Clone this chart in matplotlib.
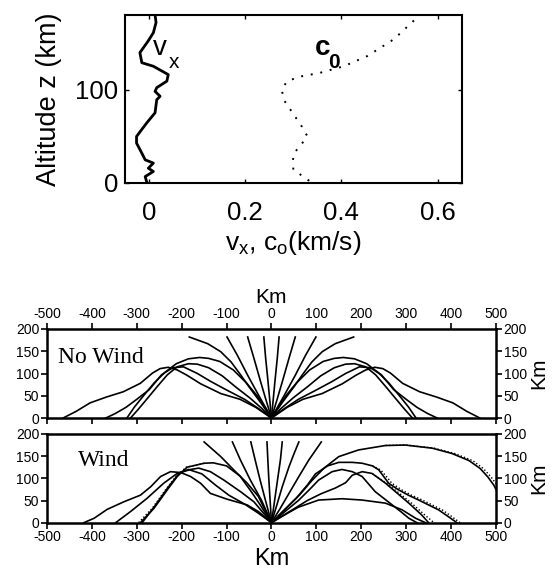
import numpy as np
import matplotlib
matplotlib.use("Agg")
import matplotlib.pyplot as plt

plt.rcParams['font.family'] = ['Liberation Sans', 'DejaVu Sans']
plt.rcParams['mathtext.fontset'] = 'custom'
plt.rcParams['mathtext.rm'] = 'Liberation Sans'
plt.rcParams['axes.unicode_minus'] = False

# ---- upper panel: wind and sound speed profiles ----
vx_z = [1, 6.5, 12, 15.5, 21, 24.5, 31.7, 42.5, 49.6, 64, 75, 89, 92.8, 98, 102,
        109, 116, 125, 128.8, 139.6, 152, 161, 172, 180]
vx_v = [-0.005, -0.008, 0.009, -0.0015, 0.009, -0.008, -0.015, -0.026, -0.026,
        -0.005, 0.0125, 0.016, 0.023, 0.0125, 0.016, 0.037, 0.04, 0.009, -0.015,
        -0.019, -0.002, 0.009, 0.0146, 0.0125]

c0_z = [2, 14, 24, 32, 42, 50, 60, 73, 89, 100, 109, 114, 118, 125, 136, 154, 179]
c0_v = [0.333, 0.30, 0.299, 0.302, 0.318, 0.329, 0.318, 0.301, 0.28, 0.276,
        0.287, 0.315, 0.356, 0.405, 0.454, 0.509, 0.561]

top_xticks = [0, 0.2, 0.4, 0.6]
top_xticklabels = ['0', '0.2', '0.4', '0.6']
top_yticks = [0, 100]

# ---- lower panels: ray paths (x in km, z in km) ----
# No wind: right half of the symmetric fan (mirrored for the left half)
nowind_x = [
    [0, 8, 13, 17],
    [0, 12, 24, 39, 53],
    [0, 28, 53, 76, 99],
    [0, 25, 50, 68, 90, 113, 142, 183],
    [0, 15, 32, 55, 85, 115, 140, 160, 185, 212, 238, 262, 285, 305, 322],
    [0, 22, 48, 80, 110, 140, 165, 185, 210, 232, 255, 278, 298, 314],
    [0, 30, 60, 100, 135, 165, 196, 220, 245, 272, 300, 324, 348, 369],
    [0, 35, 70, 113, 158, 188, 210, 230, 248, 265, 292, 330, 368, 404, 435, 464],
]
nowind_z = [
    [0, 85, 135, 182],
    [0, 40, 81, 134, 182],
    [0, 50, 96, 141, 182],
    [0, 36, 70, 96, 126, 149, 167, 182],
    [0, 25, 50, 78, 108, 127, 134, 136, 133, 122, 102, 78, 50, 25, 0],
    [0, 22, 45, 70, 95, 113, 121, 122, 115, 97, 70, 42, 18, 0],
    [0, 22, 42, 63, 82, 100, 115, 113, 97, 64, 42, 24, 10, 0],
    [0, 24, 42, 55, 77, 96, 108, 114, 111, 101, 78, 59, 47, 34, 15, 0],
]

wind_x = [
    [0, -15, -29, -54, -84, -113, -150],
    [0, -22, -47, -69, -87],
    [0, -12, -25, -36, -46],
    [0, -3, -6, -8, -10],
    [0, 7, 14, 20, 24],
    [0, 12, 24, 39, 50, 61],
    [0, 20, 39, 61, 83, 111],
    [0, -29, -54, -99, -136, -158, -180, -202, -225, -247, -269, -292, -329, -366, -395, -418],
    [0, -39, -69, -106, -136, -162, -180, -210, -240, -277, -314, -347],
    [0, -25, -45, -70, -100, -130, -150, -188, -210, -232, -262, -292],
    [0, -30, -60, -95, -125, -155, -185, -205, -230, -258, -288],
    [0, 30, 62, 90, 117, 150, 194, 254, 298, 358, 402, 440, 465, 482, 495, 500],
    [0, 25, 55, 80, 98, 125, 150, 180, 202, 225, 239, 250, 261, 283, 305, 328, 350, 372, 392, 413],
    [0, 30, 60, 85, 105, 135, 157, 180, 202, 231, 250, 269, 288, 306, 324],
    [0, 40, 80, 110, 142, 165, 180, 202, 224, 254, 276, 306, 335, 350],
    [0, 30, 60, 105, 157, 202, 254, 291, 321, 343],
]
wind_z = [
    [0, 30, 59, 89, 119, 149, 182],
    [0, 50, 96, 141, 182],
    [0, 45, 95, 140, 182],
    [0, 50, 100, 140, 182],
    [0, 50, 100, 142, 182],
    [0, 40, 81, 126, 155, 182],
    [0, 33, 66, 104, 141, 182],
    [0, 25, 40, 53, 66, 89, 104, 113, 115, 104, 81, 62, 47, 30, 10, 0],
    [0, 47, 70, 96, 115, 123, 120, 111, 89, 55, 25, 0],
    [0, 40, 70, 105, 128, 135, 134, 125, 104, 74, 32, 0],
    [0, 22, 42, 62, 85, 110, 120, 112, 80, 40, 0],
    [0, 30, 62, 95, 123, 149, 164, 174, 175, 168, 156, 140, 122, 103, 85, 75],
    [0, 25, 55, 85, 110, 128, 136, 136, 134, 128, 119, 104, 89, 74, 62, 51, 40, 29, 15, 0],
    [0, 25, 50, 75, 96, 115, 120, 115, 104, 70, 55, 40, 25, 10, 0],
    [0, 25, 50, 65, 78, 90, 107, 115, 111, 89, 70, 44, 17, 0],
    [0, 18, 35, 51, 54, 51, 44, 29, 10, 0],
]

# dotted companions (second model) where they separate from the solid rays
wind_dot_x = [
    [254, 300, 362, 408, 448, 472, 489, 500],
    [225, 243, 256, 268, 290, 312, 336, 358, 380, 400, 420],
    [224, 256, 280, 312, 342, 362],
    [-150, -190, -213, -236, -266, -296],
]
wind_dot_z = [
    [174, 175, 168, 156, 140, 122, 103, 88],
    [128, 119, 104, 89, 74, 62, 51, 40, 29, 15, 0],
    [111, 89, 70, 44, 17, 0],
    [134, 125, 104, 74, 32, 0],
]

bottom_xticks = [-500, -400, -300, -200, -100, 0, 100, 200, 300, 400, 500]
bottom_yticks = [0, 50, 100, 150, 200]

fig = plt.figure(figsize=(5.56, 5.78), dpi=100)

# upper panel
ax = fig.add_axes([0.2248, 0.684, 0.6055, 0.290])
ax.plot(vx_v, vx_z, color='black', lw=2, solid_joinstyle='round')
ax.plot(c0_v, c0_z, color='black', lw=1.4, linestyle=(0, (1, 4)))
ax.set_xlim(-0.05, 0.65)
ax.set_ylim(0, 180)
ax.set_xticks(top_xticks)
ax.set_xticklabels(top_xticklabels)
ax.set_yticks(top_yticks)
ax.tick_params(direction='in', top=True, right=True, length=3, width=1,
               labelsize=18.5)
ax.tick_params(axis='x', pad=13)
ax.tick_params(axis='y', pad=5)
for s in ax.spines.values():
    s.set_linewidth(1.5)
ax.set_ylabel('Altitude z (km)', fontsize=19.5, labelpad=9)
ax.set_xlabel(r'v$_\mathregular{x}$, c$_\mathregular{o}$(km/s)', fontsize=19, labelpad=3)
ax.text(0.023, 145, 'v', fontsize=20, ha='center', va='center')
ax.text(0.051, 129, 'x', fontsize=15, ha='center', va='center')
ax.text(0.36, 145, 'c', fontsize=20, fontweight='bold', ha='center', va='center')
ax.text(0.384, 129, '0', fontsize=15, fontweight='bold', ha='center', va='center')

# lower panels
def style_bottom(a):
    a.set_xlim(-500, 500)
    a.set_ylim(0, 200)
    a.set_xticks(bottom_xticks)
    a.set_yticks(bottom_yticks)
    a.tick_params(direction='out', length=4, width=1.2, labelsize=10, pad=1.5)
    a.tick_params(axis='y', left=True, right=True, labelleft=True, labelright=True)
    for s in a.spines.values():
        s.set_linewidth(1.8)
    a.yaxis.set_label_position('right')
    a.set_ylabel('Km', fontsize=15, labelpad=2)

ax1 = fig.add_axes([0.0845, 0.2768, 0.8075, 0.154])
for xs, zs in zip(nowind_x, nowind_z):
    ax1.plot(xs, zs, color='black', lw=1.2, solid_joinstyle='round')
    ax1.plot([-v for v in xs], zs, color='black', lw=1.2, solid_joinstyle='round')
style_bottom(ax1)
ax1.tick_params(axis='x', top=True, bottom=True, labeltop=True, labelbottom=False)
ax1.xaxis.set_label_position('top')
ax1.set_xlabel('Km', fontsize=15, labelpad=3)
ax1.text(0.025, 0.68, 'No Wind', transform=ax1.transAxes, fontsize=17,
         family='Liberation Serif', va='center')

ax2 = fig.add_axes([0.0845, 0.0957, 0.8075, 0.1535])
for xs, zs in zip(wind_x, wind_z):
    ax2.plot(xs, zs, color='black', lw=1.2, solid_joinstyle='round')
for xs, zs in zip(wind_dot_x, wind_dot_z):
    ax2.plot(xs, zs, color='black', lw=1.0, linestyle=(0, (1, 1.5)))
style_bottom(ax2)
ax2.tick_params(axis='x', top=False, bottom=True)
ax2.set_xlabel('Km', fontsize=17, labelpad=3)
ax2.text(0.07, 0.7, 'Wind', transform=ax2.transAxes, fontsize=17,
         family='Liberation Serif', va='center')

fig.savefig('out.png', dpi=100)
